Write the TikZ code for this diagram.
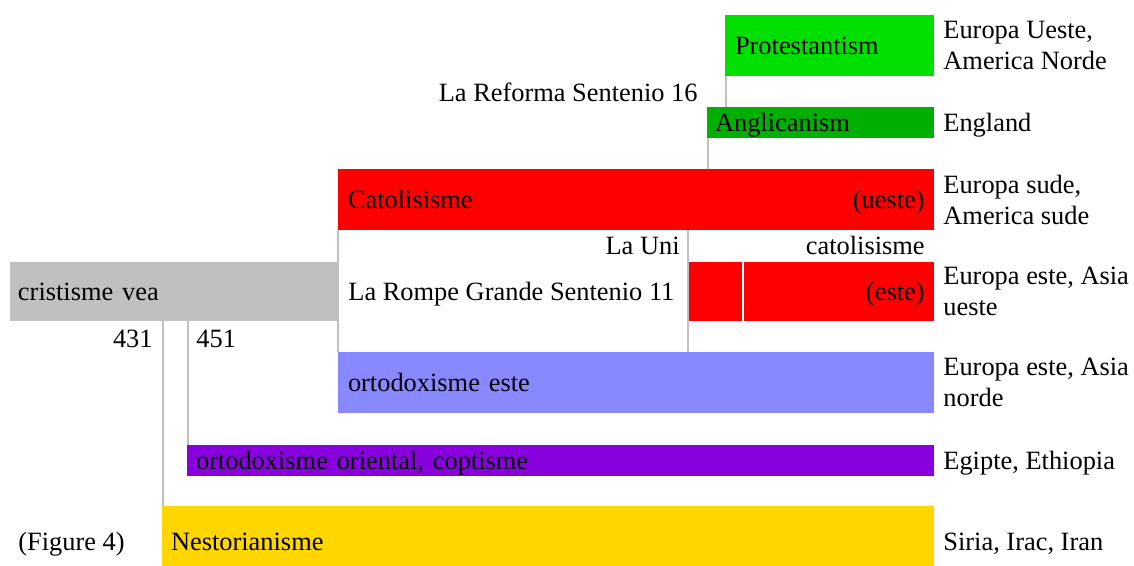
\documentclass[tikz,border=0pt]{standalone}
\usepackage{fontspec}
\setmainfont{Liberation Serif}
\usepackage{tikz}
\definecolor{protgreen}{RGB}{0,224,0}
\definecolor{anglgreen}{RGB}{0,176,0}
\definecolor{oldgray}{RGB}{192,192,192}
\definecolor{eastblue}{RGB}{136,136,255}
\definecolor{orientpurple}{RGB}{136,0,221}
\definecolor{nestgold}{RGB}{255,214,0}
\tikzstyle{box} = [anchor=north west, inner ysep=0pt, inner xsep=5pt, outer sep=0pt, align=left, text height=10pt, text depth=1pt]
\tikzstyle{lbl} = [inner sep=0pt, align=left]
\tikzstyle{single} = [lbl, text height=10pt, text depth=1pt]
\tikzstyle{region} = [lbl, anchor=west]
\tikzstyle{link} = [draw=oldgray, line width=0.8pt]

\begin{document}
\begin{tikzpicture}[x=0.5pt,y=-0.5pt,font=\fontsize{13.2}{15.5}\selectfont]
  \clip (0,0) rectangle (1134,566);
  \node[box,fill=protgreen,minimum width=104.5pt,minimum height=30.5pt,text width=94.5pt](prot) at (725,15){Protestantism};
  \node[box,fill=anglgreen,inner xsep=4pt,minimum width=113.5pt,minimum height=15.5pt,text width=105.5pt](angl) at (707,107){Anglicanism};
  \node[box,fill=red,minimum width=298pt,minimum height=30.5pt,text width=288pt](catol) at (338,169){Catolisisme};
  \node[box,fill=red,minimum width=122.5pt,minimum height=29.5pt](eastcat) at (689,262){};
  \node[box,fill=oldgray,inner xsep=4pt,minimum width=164pt,minimum height=29.5pt,text width=156pt](crist) at (10,262){cristisme vea};
  \node[box,fill=eastblue,minimum width=298pt,minimum height=30.5pt,text width=288pt](orthoeste) at (338,352){ortodoxisme este};
  \node[box,fill=orientpurple,inner xsep=4.5pt,minimum width=373.5pt,minimum height=15.5pt,text width=364.5pt](oriental) at (187,445){ortodoxisme oriental, coptisme};
  \node[box,fill=nestgold,inner xsep=4.5pt,minimum width=386pt,minimum height=35pt,text width=377pt](nestor) at (162,506){Nestorianisme};
  \draw[white,line width=0.8pt] ([xshift=27pt]eastcat.north west) -- ([xshift=27pt]eastcat.south west);
  \node[single,anchor=east](ueste) at ([xshift=-4.5pt]catol.east){(ueste)};
  \node[single,anchor=east](este) at ([xshift=-4.5pt]eastcat.east){(este)};
  % connectors
  \draw[link]([xshift=0.5pt]prot.south west)--([xshift=0.5pt]prot.south west |- angl.north);
  \draw[link]([xshift=0.5pt]angl.south west)--([xshift=0.5pt]angl.south west |- catol.north);
  \draw[link](catol.south west)--(orthoeste.north west);
  \draw[link]([xshift=-0.5pt]eastcat.north west |- catol.south)--([xshift=-0.5pt]eastcat.west |- orthoeste.north);
  \draw[link]([xshift=0.5pt]nestor.north west |- crist.south)--([xshift=0.5pt]nestor.north west);
  \draw[link]([xshift=0.5pt]oriental.north west |- crist.south)--([xshift=0.5pt]oriental.north west);
  % labels
  \node[single,anchor=east](reforma) at (698,93){La Reforma Sentenio 16};
  \node[single,anchor=east](uni) at (680,246){La Uni};
  \node[single,anchor=east](unicat) at (925,246){catolisisme};
  \node[single,anchor=west](rompe) at (348,292){La Rompe Grande Sentenio 11};
  \node[single,anchor=east](y431) at (153,339){431};
  \node[single,anchor=west](y451) at (196,339){451};
  \node[single,anchor=west](fig) at (18,541){(Figure 4)};
  % regions
  \node[region](rprot) at ([xshift=4.5pt]prot.east){Europa Ueste,\\America Norde};
  \node[region,single](rangl) at ([xshift=4.5pt]angl.east){England};
  \node[region](rcatol) at ([xshift=4.5pt]catol.east){Europa sude,\\America sude};
  \node[region](reastcat) at ([xshift=4.5pt]eastcat.east){Europa este, Asia\\ueste};
  \node[region](rortho) at ([xshift=4.5pt]orthoeste.east){Europa este, Asia\\norde};
  \node[region,single](rorient) at ([xshift=4.5pt]oriental.east){Egipte, Ethiopia};
  \node[region,single](rnestor) at ([xshift=4.5pt]nestor.east){Siria, Irac, Iran};
\end{tikzpicture}
\end{document}
